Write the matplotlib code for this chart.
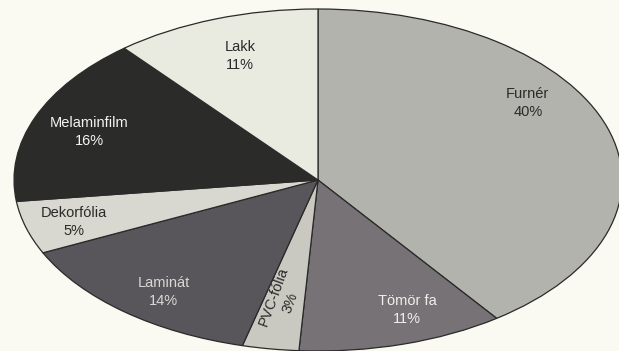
import matplotlib.pyplot as plt

# share of surface finishing materials (%)
labels = ['Furnér', 'Tömör fa', 'PVC-fólia', 'Laminát', 'Dekorfólia', 'Melaminfilm', 'Lakk']
values = [40, 11, 3, 14, 5, 16, 11]
colors = ['#b3b3ad', '#767276', '#c9c9c1', '#58565a', '#d8d8d0', '#2b2c29', '#e9eae0']
text_colors = ['#2a2a2a', '#f0f0ea', '#2a2a2a', '#d8d8d4', '#2a2a2a', '#f4f4f0', '#2a2a2a']

# label placement in data coords (x, y, rotation)
label_pos = [(0.69, 0.45, 0), (0.293, -0.76, 0), (-0.118, -0.70, 70),
             (-0.507, -0.655, 0), (-0.803, -0.246, 0), (-0.753, 0.281, 0),
             (-0.257, 0.725, 0)]

bg = '#fafaf2'
fig = plt.figure(figsize=(6.19, 3.51), dpi=100, facecolor=bg)
ax = fig.add_axes([14 / 619, 0.0, 608 / 619, 342 / 351])
ax.set_facecolor(bg)

ax.pie(values, colors=colors, startangle=90, counterclock=False, radius=1,
       wedgeprops=dict(edgecolor='#2a2a2a', linewidth=0.9))
ax.set_aspect('auto')
ax.set_xlim(-1, 1)
ax.set_ylim(-1, 1)
ax.axis('off')

font = ['Liberation Sans Narrow', 'Liberation Sans', 'DejaVu Sans']
for lab, v, (x, y, rot), tc in zip(labels, values, label_pos, text_colors):
    ax.text(x, y, f'{lab}\n{v}%', ha='center', va='center', rotation=rot,
            fontsize=10.5, color=tc, family=font, linespacing=1.3)

fig.savefig('out.png', dpi=100, facecolor=bg)
